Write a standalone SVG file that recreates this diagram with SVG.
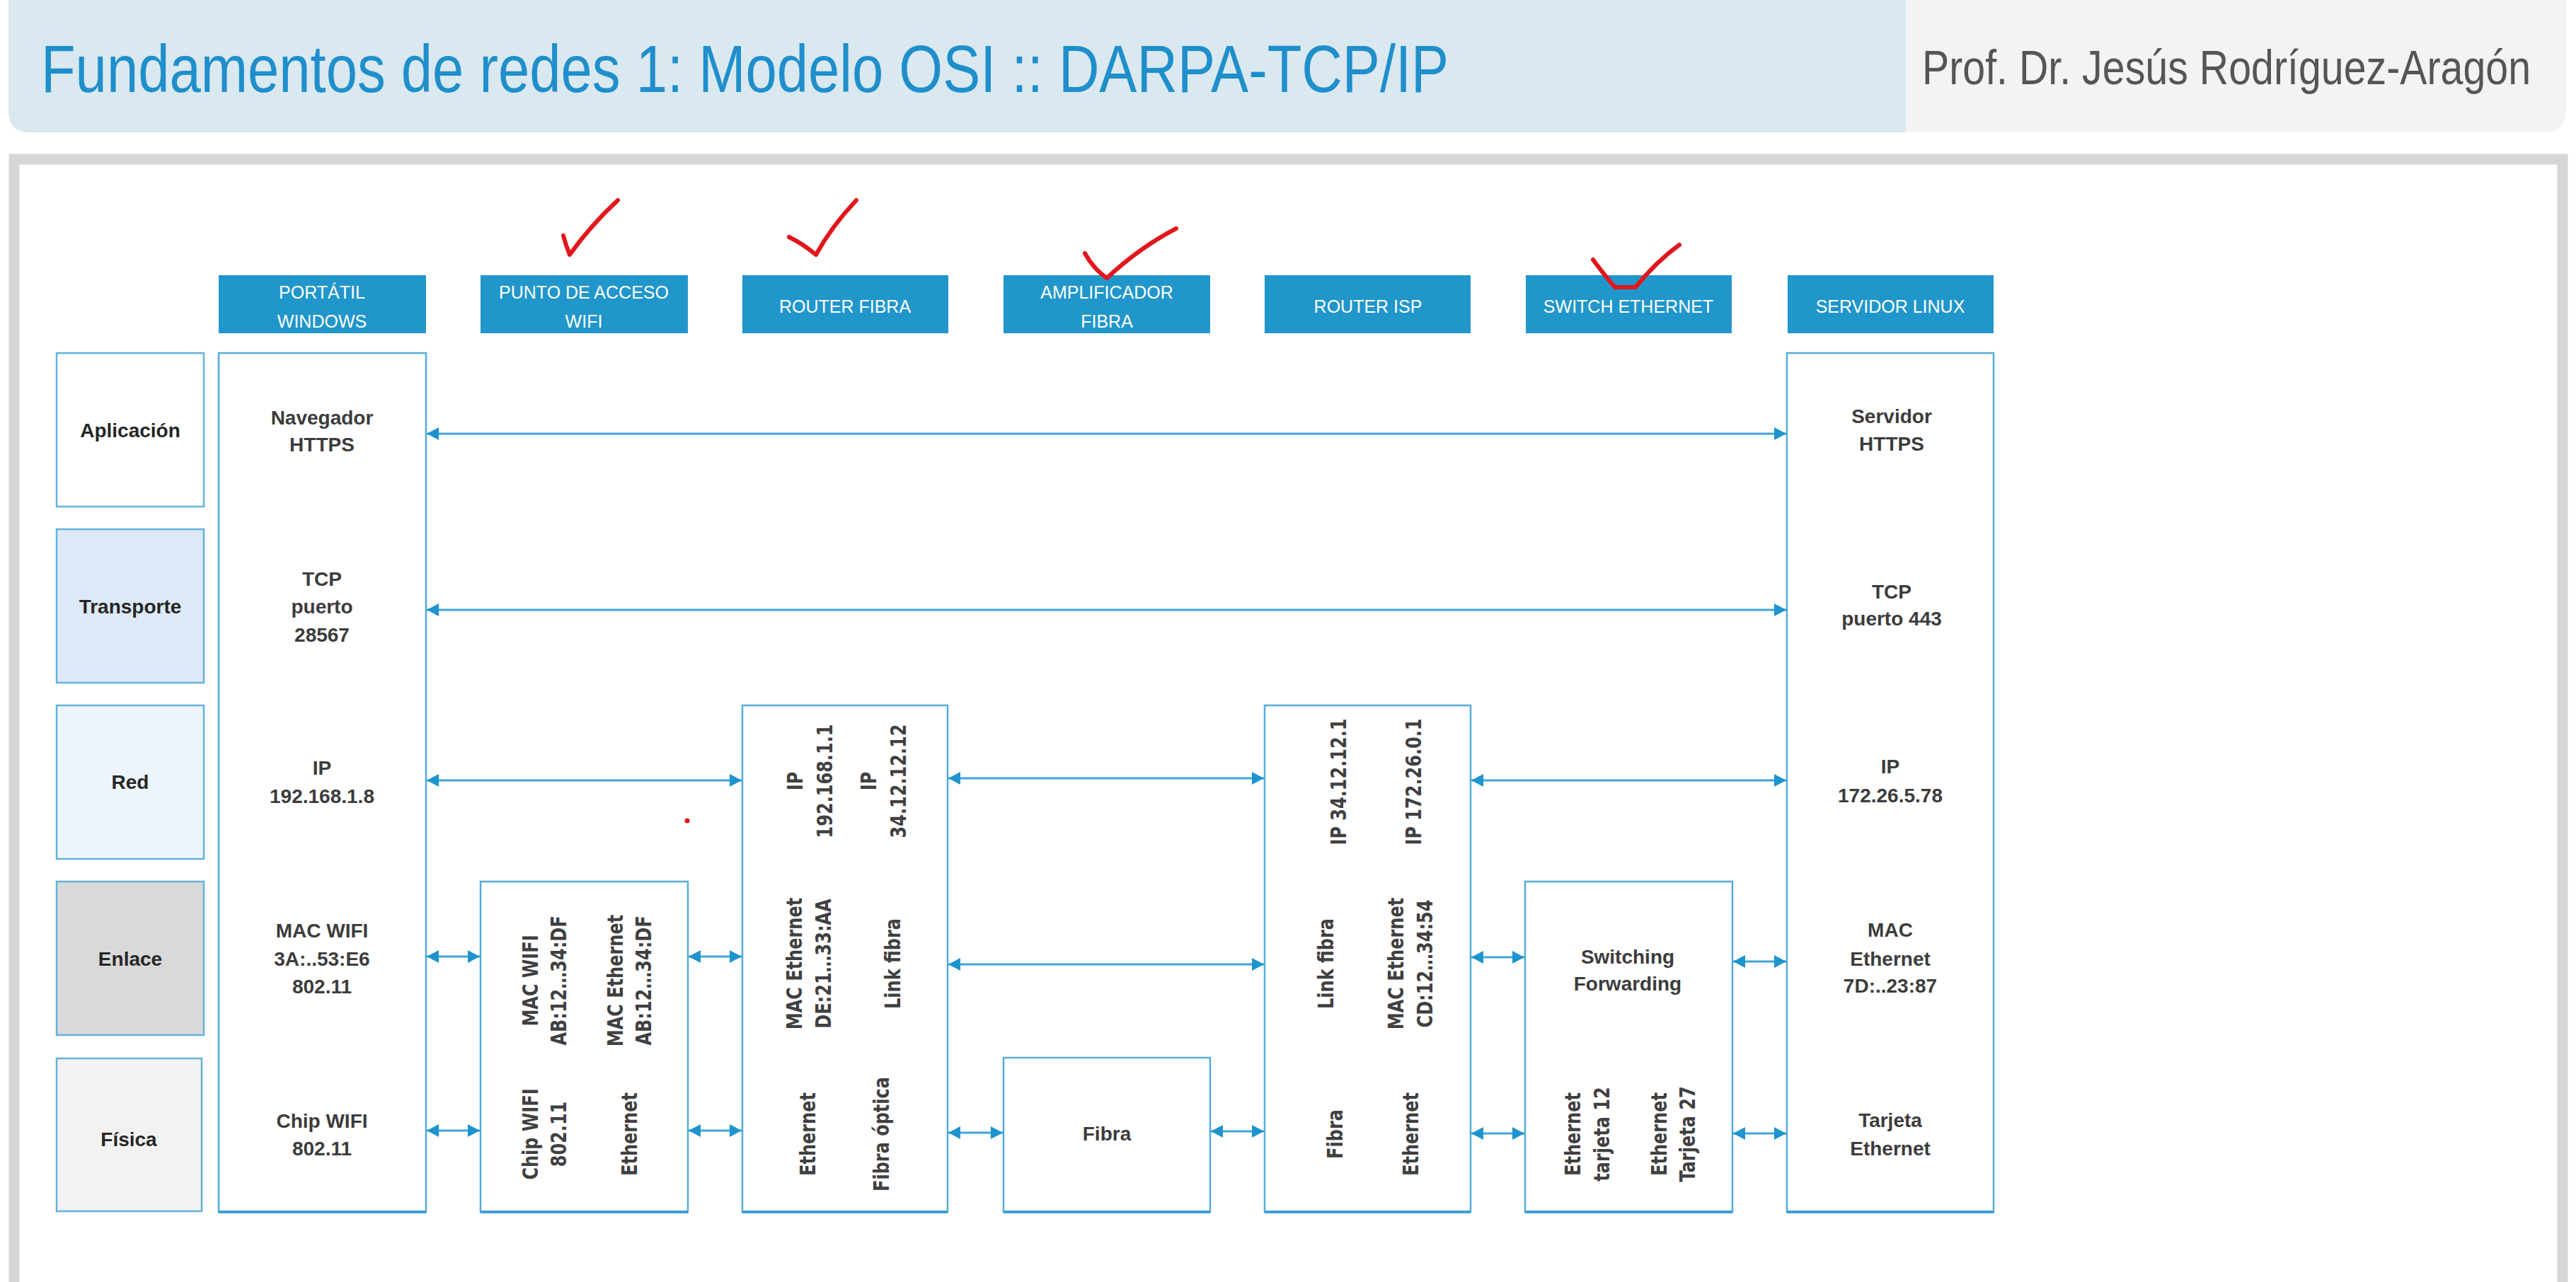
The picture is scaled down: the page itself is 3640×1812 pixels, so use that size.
<svg xmlns="http://www.w3.org/2000/svg" width="3640" height="1812" viewBox="0 0 3640 1812">
<defs>
<marker id="ah" viewBox="0 0 17 18" refX="17" refY="9" markerWidth="17" markerHeight="18" markerUnits="userSpaceOnUse" orient="auto-start-reverse">
<path d="M0,0 L17,9 L0,18 z" fill="#1e94cf"/>
</marker>
<style>
.hdr{fill:#2196cb}
.ht{font-family:"Liberation Sans",Arial,sans-serif;font-size:25px;fill:#ffffff;text-anchor:middle}
.box{fill:#ffffff;stroke:#55acd9;stroke-width:2.5}
.bb{stroke:#3a9fd3;stroke-width:4}
.t{font-family:"Liberation Sans",Arial,sans-serif;font-weight:bold;font-size:28px;fill:#3c3c3c;text-anchor:middle}
.lt{font-family:"Liberation Sans",Arial,sans-serif;font-weight:bold;font-size:28px;fill:#262626;text-anchor:middle}
.vt{font-family:"DejaVu Sans",Verdana,sans-serif;font-weight:bold;font-size:30px;fill:#404040;text-anchor:middle}
.lay{stroke:#62b2dc;stroke-width:2.5}
.con{stroke:#3ea5d9;stroke-width:3;fill:none;marker-start:url(#ah);marker-end:url(#ah)}
.chk{stroke:#e3161c;stroke-width:6;fill:none;stroke-linecap:round;stroke-linejoin:round}
</style>
</defs>
<rect x="0" y="0" width="3640" height="1812" fill="#ffffff"/>
<g id="header">
<path d="M12,-10 H3626 V157 Q3626,187 3596,187 H42 Q12,187 12,157 Z" fill="#f3f3f3"/>
<path d="M12,-10 H2693 V187 H42 Q12,187 12,157 Z" fill="#dae8f0"/>
<text transform="translate(58,130) scale(0.838,1)" x="0" y="0" font-family="'Liberation Sans',Arial,sans-serif" font-size="95" fill="#1f8fcb">Fundamentos de redes 1: Modelo OSI :: DARPA-TCP/IP</text>
<text transform="translate(2716,119) scale(0.843,1)" x="0" y="0" font-family="'Liberation Sans',Arial,sans-serif" font-size="68" fill="#555555">Prof. Dr. Jesús Rodríguez-Aragón</text>
</g>
<rect x="20" y="225" width="3601" height="1700" fill="#ffffff" stroke="#d6d6d6" stroke-width="15"/>

<g id="layers">
<g id="layer-aplicacion"><rect class="lay" x="80" y="499" width="208" height="217" fill="#ffffff"/><text class="lt" x="184" y="618">Aplicación</text></g>
<g id="layer-transporte"><rect class="lay" x="80" y="748" width="208" height="217" fill="#dde9f6"/><text class="lt" x="184" y="867">Transporte</text></g>
<g id="layer-red"><rect class="lay" x="80" y="997" width="208" height="217" fill="#eef4fb"/><text class="lt" x="184" y="1115">Red</text></g>
<g id="layer-enlace"><rect class="lay" x="80" y="1246" width="208" height="217" fill="#d9d9d9"/><text class="lt" x="184" y="1365">Enlace</text></g>
<g id="layer-fisica"><rect class="lay" x="80" y="1496" width="205" height="216" fill="#f2f2f2"/><text class="lt" x="182" y="1620">Física</text></g>
</g>

<g id="portatil">
<rect class="hdr" x="309" y="389" width="293" height="82"/>
<text class="ht" x="455" y="422">PORTÁTIL</text>
<text class="ht" x="455" y="463">WINDOWS</text>
<rect class="box" x="309" y="499" width="293" height="1214"/>
<line class="bb" x1="309" y1="1713" x2="602" y2="1713"/>
<text class="t" x="455" y="600">Navegador</text>
<text class="t" x="455" y="638">HTTPS</text>
<text class="t" x="455" y="828">TCP</text>
<text class="t" x="455" y="867">puerto</text>
<text class="t" x="455" y="907">28567</text>
<text class="t" x="455" y="1095">IP</text>
<text class="t" x="455" y="1135">192.168.1.8</text>
<text class="t" x="455" y="1325">MAC WIFI</text>
<text class="t" x="455" y="1365">3A:..53:E6</text>
<text class="t" x="455" y="1404">802.11</text>
<text class="t" x="455" y="1594">Chip WIFI</text>
<text class="t" x="455" y="1633">802.11</text>
</g>

<g id="punto-acceso">
<rect class="hdr" x="679" y="389" width="293" height="82"/>
<text class="ht" x="825" y="422">PUNTO DE ACCESO</text>
<text class="ht" x="825" y="463">WIFI</text>
<rect class="box" x="679" y="1246" width="293" height="467"/>
<line class="bb" x1="679" y1="1713" x2="972" y2="1713"/>
<text class="vt" transform="translate(760,1386) rotate(-90) scale(0.8,1)">MAC WIFI</text>
<text class="vt" transform="translate(800,1386) rotate(-90) scale(0.8,1)">AB:12…34:DF</text>
<text class="vt" transform="translate(880,1386) rotate(-90) scale(0.8,1)">MAC Ethernet</text>
<text class="vt" transform="translate(920,1386) rotate(-90) scale(0.8,1)">AB:12…34:DF</text>
<text class="vt" transform="translate(760,1603) rotate(-90) scale(0.8,1)">Chip WIFI</text>
<text class="vt" transform="translate(800,1603) rotate(-90) scale(0.8,1)">802.11</text>
<text class="vt" transform="translate(900,1603) rotate(-90) scale(0.8,1)">Ethernet</text>
</g>

<g id="router-fibra">
<rect class="hdr" x="1049" y="389" width="291" height="82"/>
<text class="ht" x="1194" y="442">ROUTER FIBRA</text>
<rect class="box" x="1049" y="997" width="290" height="716"/>
<line class="bb" x1="1049" y1="1713" x2="1339" y2="1713"/>
<text class="vt" transform="translate(1134,1104) rotate(-90) scale(0.8,1)">IP</text>
<text class="vt" transform="translate(1176,1104) rotate(-90) scale(0.8,1)">192.168.1.1</text>
<text class="vt" transform="translate(1238,1104) rotate(-90) scale(0.8,1)">IP</text>
<text class="vt" transform="translate(1280,1104) rotate(-90) scale(0.8,1)">34.12.12.12</text>
<text class="vt" transform="translate(1133,1362) rotate(-90) scale(0.8,1)">MAC Ethernet</text>
<text class="vt" transform="translate(1174,1362) rotate(-90) scale(0.8,1)">DE:21…33:AA</text>
<text class="vt" transform="translate(1272,1362) rotate(-90) scale(0.8,1)">Link fibra</text>
<text class="vt" transform="translate(1152,1603) rotate(-90) scale(0.8,1)">Ethernet</text>
<text class="vt" transform="translate(1256,1603) rotate(-90) scale(0.8,1)">Fibra óptica</text>
</g>

<g id="amplificador-fibra">
<rect class="hdr" x="1418" y="389" width="292" height="82"/>
<text class="ht" x="1564" y="422">AMPLIFICADOR</text>
<text class="ht" x="1564" y="463">FIBRA</text>
<rect class="box" x="1418" y="1495" width="292" height="218"/>
<line class="bb" x1="1418" y1="1713" x2="1710" y2="1713"/>
<text class="t" x="1564" y="1612">Fibra</text>
</g>

<g id="router-isp">
<rect class="hdr" x="1787" y="389" width="291" height="82"/>
<text class="ht" x="1933" y="442">ROUTER ISP</text>
<rect class="box" x="1787" y="997" width="291" height="716"/>
<line class="bb" x1="1787" y1="1713" x2="2078" y2="1713"/>
<text class="vt" transform="translate(1902,1105) rotate(-90) scale(0.8,1)">IP 34.12.12.1</text>
<text class="vt" transform="translate(2008,1105) rotate(-90) scale(0.8,1)">IP 172.26.0.1</text>
<text class="vt" transform="translate(1884,1362) rotate(-90) scale(0.8,1)">Link fibra</text>
<text class="vt" transform="translate(1983,1362) rotate(-90) scale(0.8,1)">MAC Ethernet</text>
<text class="vt" transform="translate(2024,1362) rotate(-90) scale(0.8,1)">CD:12…34:54</text>
<text class="vt" transform="translate(1897,1603) rotate(-90) scale(0.8,1)">Fibra</text>
<text class="vt" transform="translate(2004,1603) rotate(-90) scale(0.8,1)">Ethernet</text>
</g>

<g id="switch-ethernet">
<rect class="hdr" x="2156" y="389" width="291" height="82"/>
<text class="ht" x="2301" y="442">SWITCH ETHERNET</text>
<rect class="box" x="2155" y="1246" width="293" height="467"/>
<line class="bb" x1="2155" y1="1713" x2="2448" y2="1713"/>
<text class="t" x="2300" y="1362">Switching</text>
<text class="t" x="2300" y="1400">Forwarding</text>
<text class="vt" transform="translate(2233,1603) rotate(-90) scale(0.8,1)">Ethernet</text>
<text class="vt" transform="translate(2274,1603) rotate(-90) scale(0.8,1)">tarjeta 12</text>
<text class="vt" transform="translate(2355,1603) rotate(-90) scale(0.8,1)">Ethernet</text>
<text class="vt" transform="translate(2395,1603) rotate(-90) scale(0.8,1)">Tarjeta 27</text>
</g>

<g id="servidor-linux">
<rect class="hdr" x="2526" y="389" width="291" height="82"/>
<text class="ht" x="2671" y="442">SERVIDOR LINUX</text>
<rect class="box" x="2525" y="499" width="292" height="1214"/>
<line class="bb" x1="2525" y1="1713" x2="2817" y2="1713"/>
<text class="t" x="2673" y="598">Servidor</text>
<text class="t" x="2673" y="637">HTTPS</text>
<text class="t" x="2673" y="846">TCP</text>
<text class="t" x="2673" y="884">puerto 443</text>
<text class="t" x="2671" y="1093">IP</text>
<text class="t" x="2671" y="1134">172.26.5.78</text>
<text class="t" x="2671" y="1324">MAC</text>
<text class="t" x="2671" y="1365">Ethernet</text>
<text class="t" x="2671" y="1403">7D:..23:87</text>
<text class="t" x="2671" y="1593">Tarjeta</text>
<text class="t" x="2671" y="1633">Ethernet</text>
</g>

<g id="connectors">
<line class="con" x1="603" y1="613" x2="2524" y2="613"/>
<line class="con" x1="603" y1="862" x2="2524" y2="862"/>
<line class="con" x1="603" y1="1103" x2="1048" y2="1103"/>
<line class="con" x1="1340" y1="1100" x2="1786" y2="1100"/>
<line class="con" x1="2079" y1="1103" x2="2524" y2="1103"/>
<line class="con" x1="603" y1="1352" x2="678" y2="1352"/>
<line class="con" x1="973" y1="1352" x2="1048" y2="1352"/>
<line class="con" x1="1340" y1="1363" x2="1786" y2="1363"/>
<line class="con" x1="2079" y1="1353" x2="2154" y2="1353"/>
<line class="con" x1="2449" y1="1359" x2="2524" y2="1359"/>
<line class="con" x1="603" y1="1598" x2="678" y2="1598"/>
<line class="con" x1="973" y1="1598" x2="1048" y2="1598"/>
<line class="con" x1="1340" y1="1601" x2="1417" y2="1601"/>
<line class="con" x1="1711" y1="1599" x2="1786" y2="1599"/>
<line class="con" x1="2079" y1="1602" x2="2154" y2="1602"/>
<line class="con" x1="2449" y1="1602" x2="2524" y2="1602"/>
</g>

<g id="annotations">
<path class="chk" d="M796,333 Q800,348 805,360 Q835,318 873,283"/>
<path class="chk" d="M1115,335 Q1135,345 1153,360 Q1175,320 1210,283"/>
<path class="chk" d="M1533,358 Q1545,380 1564,393 Q1610,350 1662,323"/>
<path class="chk" d="M2251,367 Q2268,390 2282,406 L2311,406 Q2340,370 2373,346"/>
<circle cx="971" cy="1160" r="3.5" fill="#e3161c"/>
</g>
</svg>
